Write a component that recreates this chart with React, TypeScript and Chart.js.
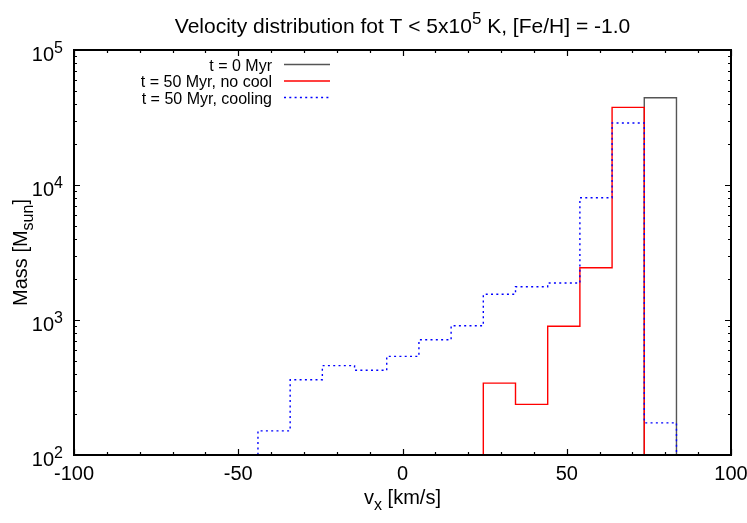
import React, { useEffect, useRef } from "react";
import { Chart, registerables } from "chart.js";

Chart.register(...registerables);

// ---------- data ----------
const binEdges = [-44, -34.2, -24.4, -14.6, -4.8, 5.0, 14.8, 24.6, 34.4, 44.2, 54.0, 63.8, 73.6, 83.4];
// mass per bin (null = empty, below the axis)
const massT0: (number | null)[] = [null, null, null, null, null, null, null, null, null, null, null, null, 44300];
const massNoCool: (number | null)[] = [null, null, null, null, null, null, null, 341, 237, 898, 2440, 37600, null];
const massCooling: (number | null)[] = [151, 361, 459, 424, 538, 714, 907, 1551, 1765, 1880, 8050, 28800, 173];

const seriesLabels = ["t = 0 Myr", "t = 50 Myr, no cool", "t = 50 Myr, cooling"];
const xTickValues = [-100, -50, 0, 50, 100];
const xMinorStep = 10;
const yDecadeExponents = [2, 3, 4, 5];

const FONT = '"Liberation Sans", Arial, Helvetica, sans-serif';
const FLOOR = 1; // below the visible axis range

type Part = { t: string; m?: "sup" | "sub" };

function buildSteps(edges: number[], values: (number | null)[]) {
  const pts: { x: number; y: number }[] = [];
  const v = values.map((a) => (a == null ? FLOOR : a));
  pts.push({ x: edges[0], y: FLOOR });
  for (let i = 0; i < v.length; i++) {
    pts.push({ x: edges[i], y: v[i] });
    pts.push({ x: edges[i + 1], y: v[i] });
  }
  pts.push({ x: edges[v.length], y: FLOOR });
  return pts;
}

function drawRich(
  ctx: CanvasRenderingContext2D,
  parts: Part[],
  x: number,
  y: number,
  size: number,
  align: "left" | "center" | "right"
) {
  const fontFor = (p: Part) => `${p.m ? Math.round(size * 0.8) : size}px ${FONT}`;
  const widths = parts.map((p) => {
    ctx.font = fontFor(p);
    return ctx.measureText(p.t).width;
  });
  const total = widths.reduce((a, b) => a + b, 0);
  let cx = align === "center" ? x - total / 2 : align === "right" ? x - total : x;
  ctx.textAlign = "left";
  ctx.textBaseline = "alphabetic";
  parts.forEach((p, i) => {
    ctx.font = fontFor(p);
    const dy = p.m === "sup" ? -size * 0.42 : p.m === "sub" ? size * 0.3 : 0;
    ctx.fillText(p.t, cx, y + dy);
    cx += widths[i];
  });
}

const decorPlugin = {
  id: "decor",
  beforeDraw(chart: any) {
    const ctx = chart.ctx as CanvasRenderingContext2D;
    ctx.save();
    ctx.fillStyle = "#ffffff";
    ctx.fillRect(0, 0, chart.width, chart.height);
    ctx.restore();
  },
  afterDraw(chart: any) {
    const ctx = chart.ctx as CanvasRenderingContext2D;
    const { left, right, top, bottom } = chart.chartArea;
    const xs = chart.scales.x;
    const ys = chart.scales.y;
    ctx.save();
    ctx.strokeStyle = "#000";
    ctx.fillStyle = "#000";

    // ticks (inside, mirrored)
    ctx.lineWidth = 1.2;
    const major = 6;
    const minor = 3;
    ctx.beginPath();
    for (let v = xTickValues[0]; v <= xTickValues[xTickValues.length - 1] + 1e-9; v += xMinorStep) {
      const px = Math.round(xs.getPixelForValue(v)) + 0.5;
      const len = xTickValues.includes(v) ? major : minor;
      ctx.moveTo(px, bottom);
      ctx.lineTo(px, bottom - len);
      ctx.moveTo(px, top);
      ctx.lineTo(px, top + len);
    }
    for (let d = yDecadeExponents[0]; d <= yDecadeExponents[yDecadeExponents.length - 1]; d++) {
      for (let m = 1; m <= 9; m++) {
        if (d === yDecadeExponents[yDecadeExponents.length - 1] && m > 1) break;
        const py = Math.round(ys.getPixelForValue(m * Math.pow(10, d))) + 0.5;
        const len = m === 1 ? major : minor;
        ctx.moveTo(left, py);
        ctx.lineTo(left + len, py);
        ctx.moveTo(right, py);
        ctx.lineTo(right - len, py);
      }
    }
    ctx.stroke();

    // frame
    ctx.lineWidth = 2;
    ctx.strokeRect(left, top, right - left, bottom - top);

    // x tick labels
    ctx.font = `20px ${FONT}`;
    ctx.textAlign = "center";
    ctx.textBaseline = "alphabetic";
    xTickValues.forEach((v) => {
      ctx.fillText(String(v), xs.getPixelForValue(v), bottom + 25);
    });

    // y tick labels
    yDecadeExponents.forEach((e) => {
      const py = ys.getPixelForValue(Math.pow(10, e));
      drawRich(ctx, [{ t: "10" }, { t: String(e), m: "sup" }], left - 11, py + 11, 20, "right");
    });

    // title
    drawRich(
      ctx,
      [{ t: "Velocity distribution fot T < 5x10" }, { t: "5", m: "sup" }, { t: " K, [Fe/H] = -1.0" }],
      (left + right) / 2,
      33,
      21,
      "center"
    );

    // x axis title
    drawRich(ctx, [{ t: "v" }, { t: "x", m: "sub" }, { t: " [km/s]" }], (left + right) / 2, 504, 20, "center");

    // y axis title
    ctx.save();
    ctx.translate(27, (top + bottom) / 2);
    ctx.rotate(-Math.PI / 2);
    drawRich(ctx, [{ t: "Mass [M" }, { t: "sun", m: "sub" }, { t: "]" }], 0, 0, 20, "center");
    ctx.restore();

    // legend
    const rowY = [64.5, 81, 97.5];
    chart.data.datasets.forEach((ds: any, i: number) => {
      ctx.font = `16px ${FONT}`;
      ctx.textAlign = "right";
      ctx.textBaseline = "alphabetic";
      ctx.fillStyle = "#000";
      ctx.fillText(ds.label, 272, rowY[i] + 6);
      ctx.beginPath();
      ctx.strokeStyle = ds.borderColor;
      ctx.lineWidth = ds.borderWidth;
      ctx.setLineDash(ds.borderDash || []);
      ctx.moveTo(284, rowY[i]);
      ctx.lineTo(330, rowY[i]);
      ctx.stroke();
      ctx.setLineDash([]);
    });

    ctx.restore();
  },
};

export default function App() {
  const ref = useRef<HTMLCanvasElement | null>(null);
  useEffect(() => {
    if (!ref.current) return;
    const chart = new Chart(ref.current, {
      type: "line",
      data: {
        datasets: [
          {
            label: seriesLabels[0],
            data: buildSteps(binEdges, massT0),
            borderColor: "#555555",
            borderWidth: 1.4,
            order: 3,
          },
          {
            label: seriesLabels[1],
            data: buildSteps(binEdges, massNoCool),
            borderColor: "#ff0000",
            borderWidth: 1.4,
            order: 2,
          },
          {
            label: seriesLabels[2],
            data: buildSteps(binEdges, massCooling),
            borderColor: "#0000ff",
            borderWidth: 1.4,
            borderDash: [2, 3.3],
            order: 1,
          },
        ] as any,
      },
      options: {
        responsive: false,
        animation: false,
        devicePixelRatio: 1,
        parsing: false,
        layout: { padding: { left: 74, right: 16, top: 50, bottom: 68 } },
        scales: {
          x: { type: "linear", min: -100, max: 100, display: false },
          y: { type: "logarithmic", min: 100, max: 100000, display: false },
        },
        elements: { point: { radius: 0 }, line: { tension: 0, fill: false } },
        plugins: { legend: { display: false }, tooltip: { enabled: false }, title: { display: false } },
      } as any,
      plugins: [decorPlugin],
    });
    return () => chart.destroy();
  }, []);
  return (
    <div style={{ position: "absolute", left: 0, top: 0, width: 747, height: 523 }}>
      <canvas ref={ref} width={747} height={523} style={{ display: "block" }} />
    </div>
  );
}
